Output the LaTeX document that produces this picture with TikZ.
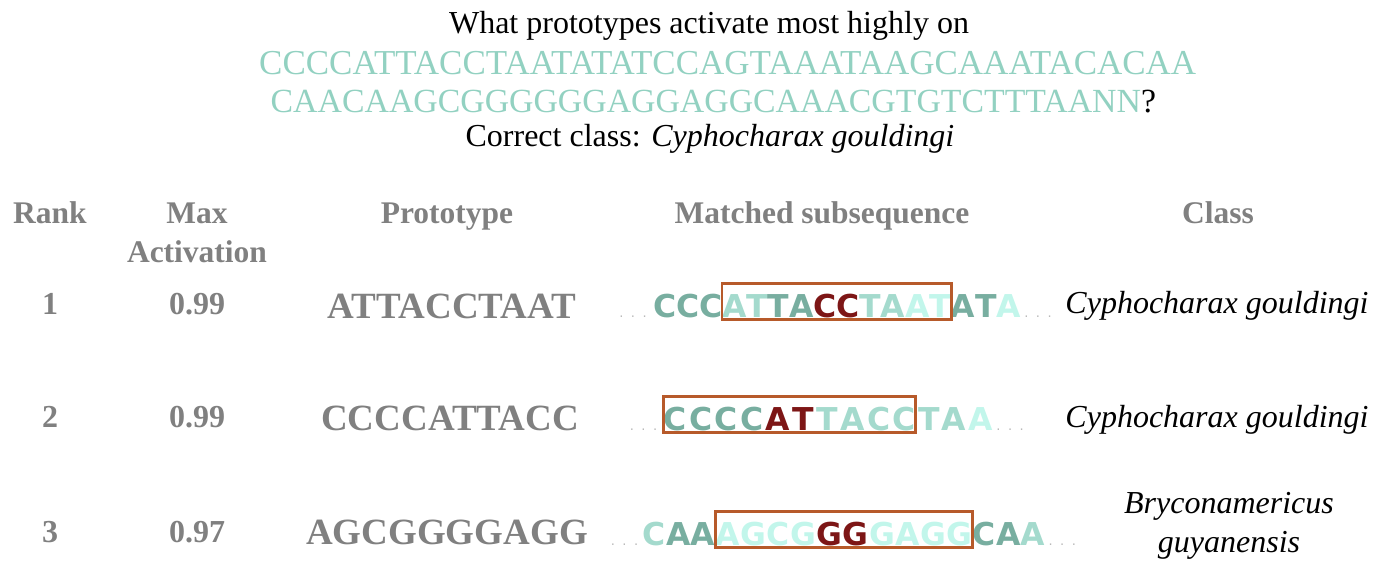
\documentclass[tikz,border=0pt]{standalone}
\usepackage{fontspec}
\setmainfont{Liberation Serif}
\newfontfamily\logofont{DejaVu Sans}
\usetikzlibrary{positioning}
\definecolor{seqteal}{RGB}{146,209,193}
\definecolor{txtgray}{RGB}{128,128,128}
\definecolor{dotgray}{RGB}{185,185,185}
\definecolor{tdark}{RGB}{125,22,22}
\definecolor{tmid}{RGB}{120,174,160}
\definecolor{tlight}{RGB}{164,218,205}
\definecolor{tpale}{RGB}{194,246,235}
\definecolor{boxbrown}{RGB}{183,90,42}
\def\seqdots{.\hspace{7.5pt}.\hspace{7.5pt}.}

\tikzset{
	title/.style={inner sep=0pt, font=\fontsize{32}{38}\selectfont},
	seqline/.style={inner sep=0pt, text=seqteal},
	head/.style={inner sep=0pt, anchor=base, align=center, text=txtgray, font=\bfseries\fontsize{31.5}{39}\selectfont},
	cell/.style={inner sep=0pt, anchor=base, text=txtgray, font=\bfseries\fontsize{32}{38}\selectfont},
	proto/.style={inner sep=0pt, anchor=base, text=txtgray, font=\bfseries\fontsize{37}{40}\selectfont},
	species/.style={inner sep=0pt, anchor=base, align=center, font=\itshape\fontsize{32}{39}\selectfont},
	nuc/.style={inner sep=0pt, text height=33pt, text depth=2pt, font=\logofont\bfseries\fontsize{31.5}{36}\selectfont},
	seqdot/.style={nuc, text=dotgray, font=\logofont\fontsize{13}{15}\selectfont},
	matchbox/.style={draw=boxbrown, line width=2.8pt}
}

\begin{document}
\begin{tikzpicture}[x=1pt, y=-1pt]
			\useasboundingbox (0,0) rectangle (1400,582);
			
			%%%%% QUESTION %%%%%
			\node[title, anchor=base] (q1) at (709,33) {What prototypes activate most highly on};
			\node[seqline, font=\fontsize{35}{38}\selectfont, anchor=base west] (q2) at (259,74) {CCCCATTACCTAATATATCCAGTAAATAAGCAAATACACAA};
			\node[seqline, font=\fontsize{33.8}{38}\selectfont, anchor=base west] (q3) at (270.5,112) {CAACAAGCGGGGGGAGGAGGCAAACGTGTCTTTAANN\textcolor{black}{?}};
			\node[title, anchor=base] (q4) at (710,146) {Correct class: \textit{Cyphocharax gouldingi}};
			
			%%%%% HEADER %%%%%
			\node[head] (hrank) at (50,223) {Rank};
			\node[head] (hact) at (197,262) {Max\\Activation};
			\node[head] (hproto) at (447,223) {Prototype};
			\node[head] (hmatch) at (822,223) {Matched subsequence};
			\node[head] (hclass) at (1218,223) {Class};
			
			%%%%% ROW 1 %%%%%
			\node[cell] (rank1) at (50,314) {1};
			\node[cell] (act1) at (197,314) {0.99};
			\node[proto] (proto1) at (452,318) {ATTACCTAAT};
			\node[species] (cls1) at (1217,313) {Cyphocharax gouldingi};
			
			\node[nuc, anchor=base west] (m1-0) at (652,317) {};
			\foreach \ch/\col [count=\i, remember=\i as \j (initially 0)] in {C/tmid, C/tmid, C/tmid, A/tlight, T/tlight, T/tmid, A/tmid, C/tdark, C/tdark, T/tlight, A/tlight, A/tpale, T/tpale, A/tmid, T/tmid, A/tpale}
				\node[nuc, text=\col, right=-0.5pt of m1-\j] (m1-\i) {\ch};
			\node[seqdot, left=6pt of m1-1] (m1-pre) {\seqdots};
			\node[seqdot, right=3pt of m1-16] (m1-post) {\seqdots};
			\draw[matchbox] (m1-4.north west) rectangle (m1-13.south east);
			
			%%%%% ROW 2 %%%%%
			\node[cell] (rank2) at (50,427) {2};
			\node[cell] (act2) at (197,427) {0.99};
			\node[proto] (proto2) at (450,430) {CCCCATTACC};
			\node[species] (cls2) at (1217,427) {Cyphocharax gouldingi};
			
			\node[nuc, anchor=base west] (m2-0) at (660,430) {};
			\foreach \ch/\col [count=\i, remember=\i as \j (initially 0)] in {C/tmid, C/tmid, C/tmid, C/tmid, A/tdark, T/tdark, T/tlight, A/tlight, C/tlight, C/tlight, T/tlight, A/tlight, A/tpale}
				\node[nuc, text=\col, right=2pt of m2-\j] (m2-\i) {\ch};
			\node[seqdot, left=6pt of m2-1] (m2-pre) {\seqdots};
			\node[seqdot, right=3pt of m2-13] (m2-post) {\seqdots};
			\draw[matchbox] (m2-1.north west) rectangle (m2-10.south east);
			
			%%%%% ROW 3 %%%%%
			\node[cell] (rank3) at (50,542) {3};
			\node[cell] (act3) at (197,542) {0.97};
			\node[proto] (proto3) at (447,544) {AGCGGGGAGG};
			\node[species] (cls3) at (1229,552) {Bryconamericus\\guyanensis};
			
			\node[nuc, anchor=base west] (m3-0) at (641,545) {};
			\foreach \ch/\col [count=\i, remember=\i as \j (initially 0)] in {C/tlight, A/tmid, A/tmid, A/tpale, G/tpale, C/tpale, G/tpale, G/tdark, G/tdark, G/tpale, A/tpale, G/tpale, G/tpale, C/tmid, A/tmid, A/tlight}
				\node[nuc, text=\col, right=0pt of m3-\j] (m3-\i) {\ch};
			\node[seqdot, left=4pt of m3-1] (m3-pre) {\seqdots};
			\node[seqdot, right=3pt of m3-16] (m3-post) {\seqdots};
			\draw[matchbox] (m3-4.north west) rectangle (m3-13.south east);
			
\end{tikzpicture}
\end{document}
